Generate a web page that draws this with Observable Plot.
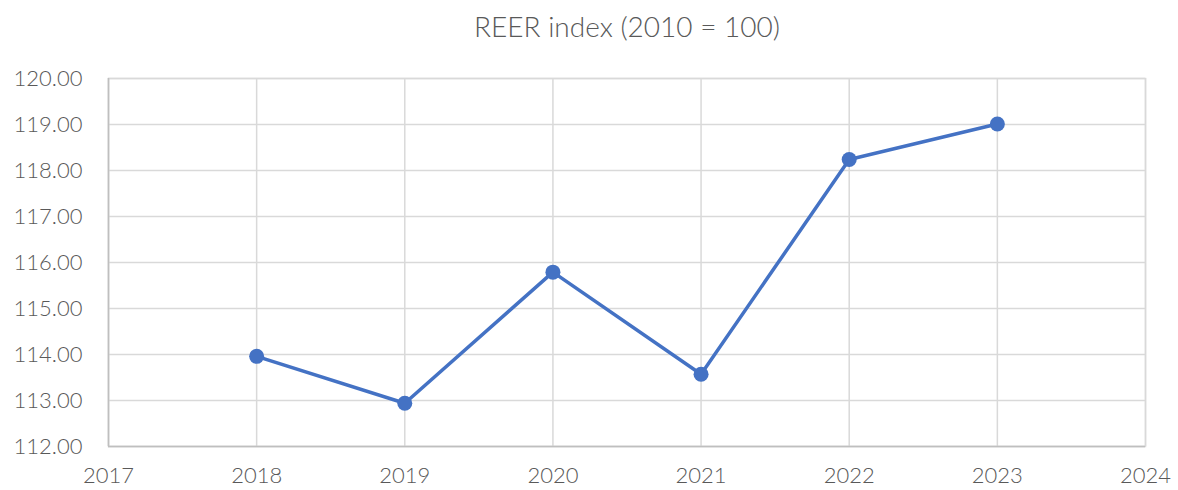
<!DOCTYPE html>
<html>
<head>
<meta charset="utf-8">
<script src="https://cdn.jsdelivr.net/npm/d3@7"></script>
<script src="https://cdn.jsdelivr.net/npm/@observablehq/plot@0.6"></script>
<style>
  html, body { margin: 0; padding: 0; background: #fff; }
  #chart { width: 1178px; height: 490px; }
</style>
</head>
<body>
<div id="chart"></div>
<script>
const years = [2018, 2019, 2020, 2021, 2022, 2023];
const reer = [113.96, 112.94, 115.79, 113.57, 118.24, 119.01];
const xTicks = [2017, 2018, 2019, 2020, 2021, 2022, 2023, 2024];
const yTicks = [112, 113, 114, 115, 116, 117, 118, 119, 120];
const title = "REER index (2010 = 100)";

const data = years.map((y, i) => ({year: y, value: reer[i]}));
const font = "Lato, 'Open Sans', sans-serif";

const chart = Plot.plot({
  width: 1178,
  height: 490,
  marginTop: 78,
  marginBottom: 44,
  marginLeft: 108,
  marginRight: 33,
  style: {fontFamily: font, fontSize: "22px", color: "#595959", background: "#fff"},
  x: {domain: [2017, 2024], ticks: xTicks, tickFormat: d => String(d), label: null},
  y: {domain: [112, 120], ticks: yTicks, tickFormat: d => d.toFixed(2), label: null},
  marks: [
    Plot.gridX(xTicks, {stroke: "#d9d9d9", strokeOpacity: 1, strokeWidth: 1.5}),
    Plot.gridY(yTicks, {stroke: "#d9d9d9", strokeOpacity: 1, strokeWidth: 1.5}),
    Plot.frame({stroke: "#d9d9d9", strokeWidth: 1.5}),
    Plot.ruleX([2017], {stroke: "#bfbfbf", strokeWidth: 1.5}),
    Plot.ruleY([112], {stroke: "#bfbfbf", strokeWidth: 1.5}),
    Plot.axisX({ticks: xTicks, tickSize: 0, tickPadding: 21, tickFormat: d => String(d), fill: "#595959", fontSize: 22, fontWeight: 300}),
    Plot.axisY({ticks: yTicks, tickSize: 0, tickPadding: 26, tickFormat: d => d.toFixed(2), fill: "#595959", fontSize: 22, fontWeight: 300}),
    Plot.line(data, {x: "year", y: "value", stroke: "#4472C4", strokeWidth: 3.5}),
    Plot.dot(data, {x: "year", y: "value", fill: "#4472C4", r: 7.5}),
    Plot.text([title], {frameAnchor: "top", lineAnchor: "middle", dy: -50, text: d => d, fontSize: 28, fontWeight: 300, fill: "#595959", fontFamily: font})
  ]
});
document.getElementById("chart").appendChild(chart);
</script>
</body>
</html>
